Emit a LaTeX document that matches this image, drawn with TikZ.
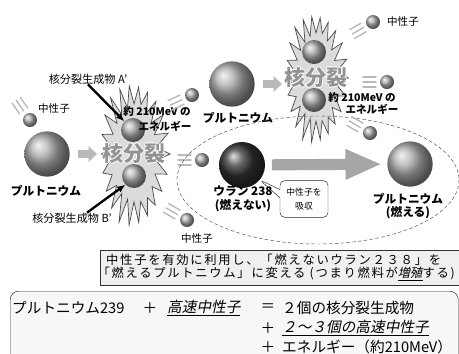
\documentclass[tikz,border=0pt]{standalone}
\usepackage{fontspec}
\setmainfont{Noto Sans CJK JP}
\newfontfamily\jpslant{Noto Sans CJK JP}[FakeSlant=0.2]
\newfontfamily\jpwide{Noto Sans CJK JP}[LetterSpace=14]
\usetikzlibrary{arrows.meta,positioning,shapes.callouts}

\newcommand\fast[1]{\underline{\jpslant #1}}
\newcommand\halo[1]{\leavevmode\rlap{\textcolor{white}{\kern-.9pt#1}}\rlap{\textcolor{white}{\kern.9pt#1}}%
  \rlap{\textcolor{white}{\raisebox{.9pt}{#1}}}\rlap{\textcolor{white}{\raisebox{-.9pt}{#1}}}#1}

\tikzset{
  trail/.pic={\foreach \d in {-5,0,5} \draw[gray!55,line width=1.2pt,line cap=round] (-24,\d) -- (-11,\d);},
  burst/.pic={\draw[fill=gray!28,draw=gray!60!black,line width=.6pt] (0:36 and 75)
    \foreach \i in {1,...,43} { -- ({\i*360/44}:{(36-11*mod(\i,2))*(1-.1*abs(sin(\i*77)))} and {(75-23*mod(\i,2))*(1-.1*abs(sin(\i*77)))}) } -- cycle;}
}

\begin{document}
\begin{tikzpicture}[x=0.03cm,y=-0.03cm,>=Latex,
  sphere/.style={circle,inner sep=0pt,shading=ball},
  atom/.style={sphere,ball color=gray!65,minimum size=1.36cm},
  neutron/.style={sphere,ball color=gray!65,minimum size=.42cm},
  frag/.style={sphere,ball color=gray!65,minimum size=.72cm},
  tag/.style={font=\fontsize{9}{10}\selectfont,inner sep=0pt},
  atomlabel/.style={font=\bfseries\fontsize{10}{11.5}\selectfont,align=center,inner sep=0pt},
  energy/.style={font=\bfseries\fontsize{9}{10}\selectfont,inner sep=0pt},
  fission/.style={font=\bfseries\fontsize{18}{20}\selectfont,text=gray!85,inner sep=0pt},
  fatarrow/.style={gray!55,line width=7.5pt,-{Triangle[length=7pt,width=13pt]}},
  bigarrow/.style={gray!70,line width=9.5pt,-{Triangle[length=31pt,width=24pt]}},
  ptr/.style={line width=2pt,-{Latex[length=7pt,width=6pt]}},
  notebox/.style={draw=gray!40!black,fill=gray!12,align=left,text width=12cm,minimum height=1cm,inner xsep=1.8mm,font=\jpwide\fontsize{10.5}{11.1}\selectfont},
  eqbox/.style={draw=gray!30!black,fill=gray!6,rounded corners=7pt,minimum width=13.44cm,minimum height=3cm},
  eqtxt/.style={font=\fontsize{12.5}{14}\selectfont,inner sep=0pt}]
\useasboundingbox (0,0) rectangle (459,353);
\clip (0,0) rectangle (459,353);

% first fission
\node[neutron] (n0) at (30,120) {};\pic[rotate=-55] at (n0) {trail};
\node[tag] at (54,109) {中性子};
\node[atom] (puA) at (47,154) {};
\node[atomlabel] at (46,191) {プルトニウム};
\coordinate (burstA) at (134,154);
\pic at (burstA) {burst};
\draw[fatarrow] (puA.east) ++(8,0) -- ++(19,0);
\node[frag] (fragA) at (133,130) {};
\node[frag] (fragB) at (134,176) {};
\node[fission] at (burstA) {\halo{核分裂}};
\node[energy] at (157,111) {約 210MeV の};
\node[energy] at (165,126) {エネルギー};
\node[tag,font=\fontsize{9.5}{10}\selectfont] (prodA) at (88,79) {核分裂生成物 A'};
\draw[ptr] (prodA.south) -- (fragA.135);
\node[tag,font=\fontsize{9.5}{10}\selectfont] (prodB) at (72,218) {核分裂生成物 B'};
\draw[ptr] ([xshift=4.5mm]prodB.north) -- (fragB.225);
\node[neutron] (n1) at (192,95) {};\pic[rotate=25] at (n1) {trail};
\node[neutron] (n2) at (202,160) {};\pic at (n2) {trail};
\node[neutron] (n3) at (187,220) {};\pic[rotate=-30] at (n3) {trail};
\node[tag] at (197,238) {中性子};

% second fission
\node[atom] (puB) at (232,84) {};
\node[atomlabel] at (238,118) {プルトニウム};
\coordinate (burstB) at (316,78);
\draw[fatarrow] (puB.east) ++(8,0) -- ++(19,0);
\pic[scale=.9] at (burstB) {burst};
\draw[gray!60!black,dash pattern=on 3pt off 2pt] (318,180) ellipse [x radius=141,y radius=64];
\node[frag] (fragC) at (314,52) {};
\node[frag] (fragD) at (314,100) {};
\node[fission] at (burstB) {\halo{核分裂}};
\node[energy] at (362,97) {約 210MeV の};
\node[energy] at (372,109) {エネルギー};
\node[neutron] (n4) at (373,22) {};\pic[rotate=30] at (n4) {trail};
\node[tag] at (403,22) {中性子};
\node[neutron] (n5) at (387,82) {};\pic at (n5) {trail};
\node[neutron] (n6) at (370,133) {};\pic[rotate=-30] at (n6) {trail};

% breeding
\node[sphere,ball color=black!80,minimum size=1.38cm] (u238) at (242,165) {};
\node[atom] (puC) at (410,164) {};
\draw[bigarrow,shorten <=2mm,shorten >=1.6mm] (u238) -- (puC);
\node[rectangle callout,draw=gray!30!black,fill=white,rounded corners=4pt,align=center,font=\fontsize{7.5}{12}\selectfont,
  minimum width=1.44cm,minimum height=1.1cm,callout absolute pointer={(u238.-40)}] (absorb) at (304,199) {中性子を\\吸収};
\node[atomlabel] at (243,199) {ウラン 238\\(燃えない)};
\node[atomlabel] at (408,206) {プルトニウム\\(燃える)};

\node[notebox,anchor=north west] (note) at (100,250) {中性子を有効に利用し、「燃えないウラン２３８」を\\\hspace*{-.7em}「燃えるプルトニウム」に変える (つまり燃料が\fast{増殖}する)};

\node[eqbox,anchor=north west] (eq) at (10,291) {};
\node[eqtxt,anchor=west] (lhs) at (12,308) {プルトニウム239};
\node[eqtxt] (plus0) at (150,308) {＋};
\node[eqtxt,anchor=west] at (167,308) {\fast{高速中性子}};
\node[eqtxt] (eqs) at (268,308) {＝};
\node[eqtxt,anchor=west] at (282,308) {２個の核分裂生成物};
\node[eqtxt] (plus1) at (268,328) {＋};
\node[eqtxt,anchor=west] at (282,328) {\fast{２～３個の高速中性子}};
\node[eqtxt] (plus2) at (268,347) {＋};
\node[eqtxt,anchor=west] at (282,347) {エネルギー（約210MeV）};
\end{tikzpicture}
\end{document}
